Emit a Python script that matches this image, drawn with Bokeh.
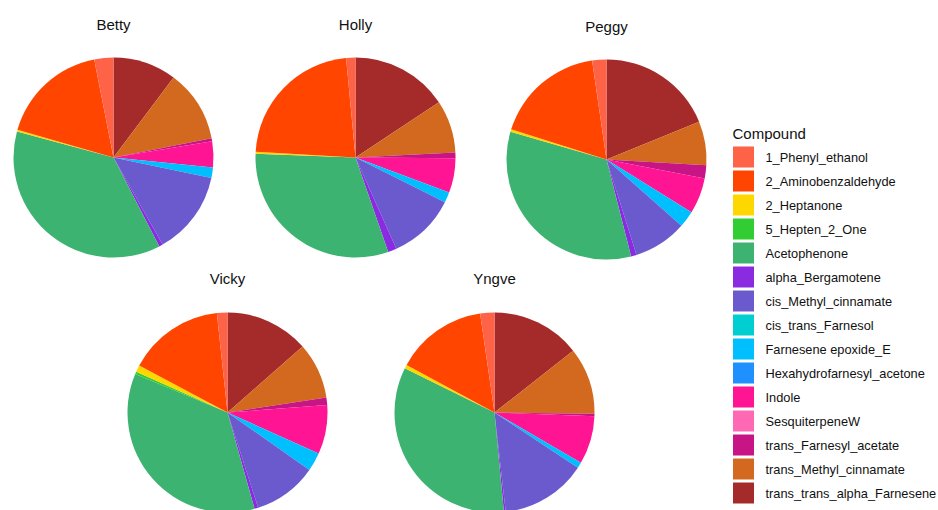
import math
from bokeh.plotting import figure
from bokeh.models import ColumnDataSource, Range1d
from bokeh.core.properties import value
from bokeh.embed import file_html
from bokeh.resources import INLINE

compounds = ["1_Phenyl_ethanol", "2_Aminobenzaldehyde", "2_Heptanone", "5_Hepten_2_One",
             "Acetophenone", "alpha_Bergamotene", "cis_Methyl_cinnamate", "cis_trans_Farnesol",
             "Farnesene epoxide_E", "Hexahydrofarnesyl_acetone", "Indole", "SesquiterpeneW",
             "trans_Farnesyl_acetate", "trans_Methyl_cinnamate", "trans_trans_alpha_Farnesene"]
colors = ["#FF6347", "#FF4500", "#FFD700", "#32CD32", "#3CB371", "#8A2BE2", "#6A5ACD", "#00CED1",
          "#00BFFF", "#1E90FF", "#FF1493", "#FF69B4", "#C71585", "#D2691E", "#A52A2A"]

animals = ["Betty", "Holly", "Peggy", "Vicky", "Yngve"]
betty = [3.1, 17.5, 0.3, 0.0, 36.9, 0.6, 13.6, 0.0, 1.7, 0.0, 4.2, 0.0, 0.5, 11.7, 10.3]
holly = [1.5, 22.6, 0.3, 0.0, 30.9, 1.4, 10.9, 0.0, 1.7, 0.0, 5.6, 0.0, 0.9, 8.5, 15.7]
peggy = [2.3, 17.8, 0.4, 0.0, 33.4, 0.9, 8.6, 0.0, 2.7, 0.0, 5.8, 0.0, 2.1, 7.1, 18.8]
vicky = [1.7, 15.5, 1.1, 0.4, 35.6, 0.6, 10.3, 0.0, 3.0, 0.0, 7.9, 0.0, 1.2, 9.1, 13.5]
yngve = [2.3, 14.8, 0.6, 0.0, 33.8, 0.3, 13.9, 0.0, 0.9, 0.0, 7.8, 0.0, 0.4, 10.8, 14.4]
series = [betty, holly, peggy, vicky, yngve]

# layout (pixel positions of panel centres, y measured from top)
W, H = 938, 510
centers = [(113, 157), (355, 157), (606, 159), (227, 412), (494, 412)]
title_y = [24, 24, 26, 278, 278]
RADIUS = 100

p = figure(width=W, height=H, output_backend="svg", toolbar_location=None,
           x_range=Range1d(0, W), y_range=Range1d(0, H), min_border=0)
p.axis.visible = False
p.grid.visible = False
p.outline_line_color = None
p.background_fill_color = "white"
p.border_fill_color = "white"

xs, ys, st, en, cs = [], [], [], [], []
for (cx, cy), vals in zip(centers, series):
    total = sum(vals)
    cum = 0.0
    for i in reversed(range(len(compounds))):
        v = vals[i]
        if v <= 0:
            continue
        c0 = cum / total
        cum += v
        c1 = cum / total
        xs.append(cx)
        ys.append(H - cy)
        st.append(math.pi / 2 - 2 * math.pi * c1)
        en.append(math.pi / 2 - 2 * math.pi * c0)
        cs.append(colors[i])

src = ColumnDataSource(dict(x=xs, y=ys, start=st, end=en, color=cs))
p.wedge(x="x", y="y", radius=RADIUS, radius_units="screen", start_angle="start", end_angle="end",
        fill_color="color", line_color=None, source=src)

p.text(x=[c[0] for c in centers], y=[H - t for t in title_y], text=animals,
       text_font=value("Liberation Sans"), text_font_size="15px", text_color="#111111",
       text_align="center", text_baseline="middle")

# legend
lx, ly0, step = 743, 156.5, 24.0
p.text(x=[732], y=[H - 133], text=["Compound"], text_font=value("Liberation Sans"),
       text_font_size="15px", text_color="#111111", text_baseline="middle")
p.rect(x=[lx] * len(compounds), y=[H - (ly0 + step * i) for i in range(len(compounds))],
       width=21, height=21, width_units="screen", height_units="screen",
       fill_color=colors, line_color=None)
p.text(x=[765] * len(compounds), y=[H - (ly0 + step * i) for i in range(len(compounds))],
       text=compounds, text_font=value("Liberation Sans"), text_font_size="12.8px",
       text_color="#111111", text_baseline="middle")

open("out.html", "w").write(file_html(p, INLINE))
